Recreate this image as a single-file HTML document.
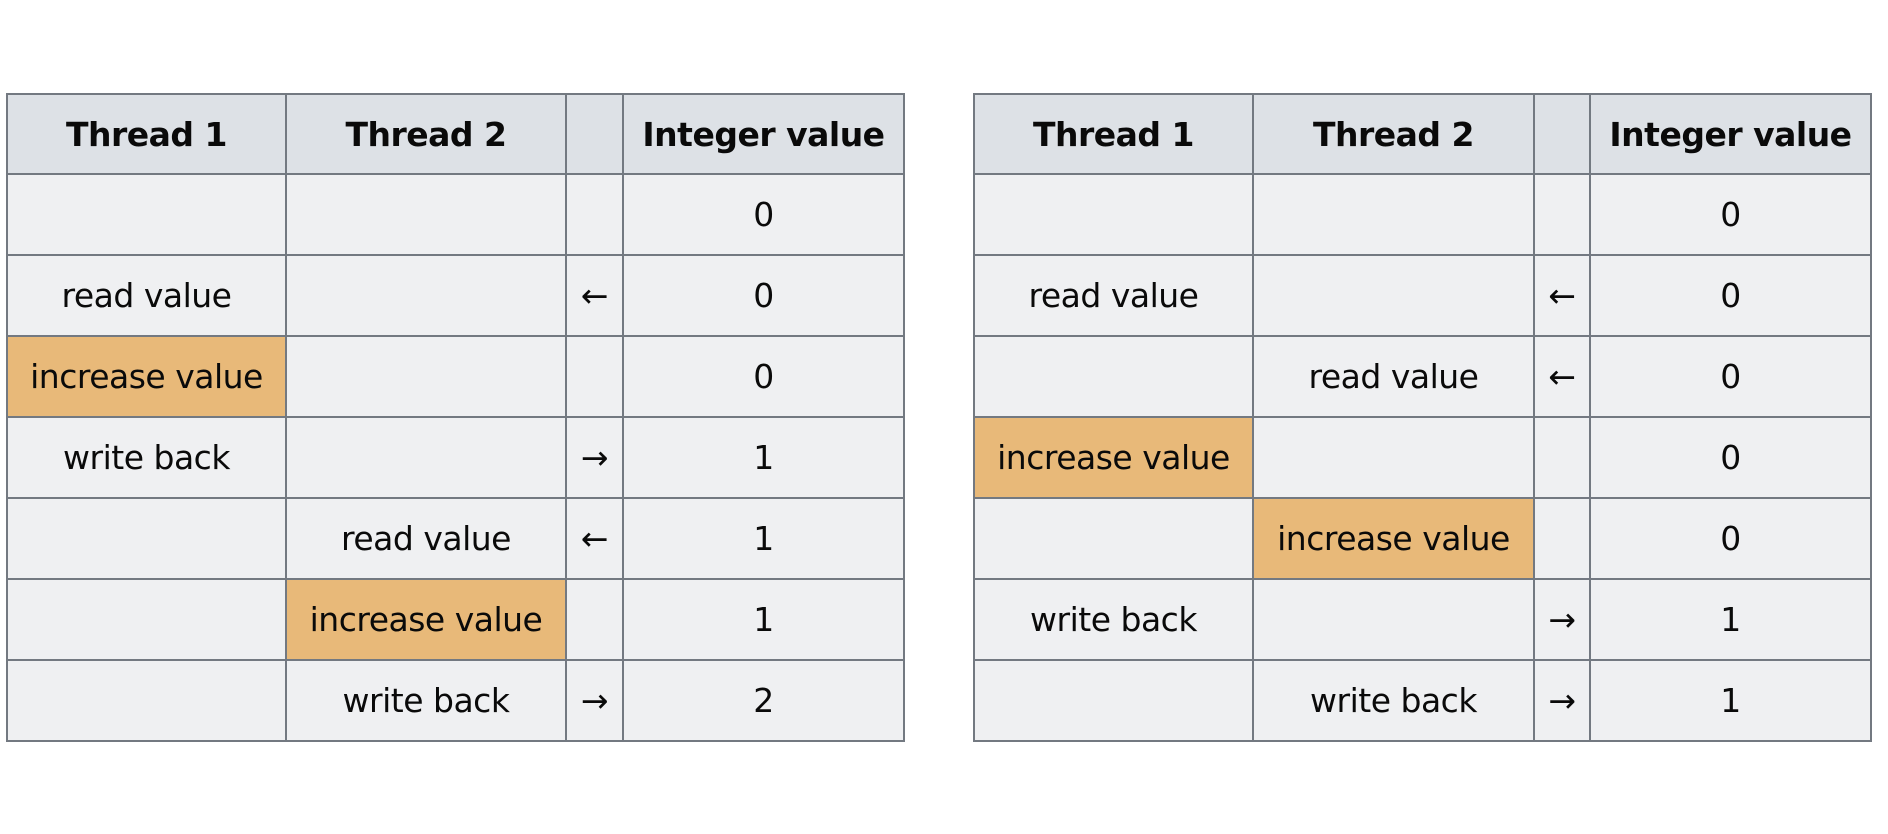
<!DOCTYPE html>
<html><head><meta charset="utf-8"><style>
body{margin:0;width:1888px;height:834px;background:#fff;position:relative;overflow:hidden;font-family:"DejaVu Sans","Liberation Sans",sans-serif;}
table{position:absolute;top:93px;border-collapse:collapse;table-layout:fixed;}
td,th{border:2px solid #737981;background:#eff0f2;text-align:center;font-size:33px;color:#0a0a0a;padding:0;height:81px;box-sizing:border-box;white-space:nowrap;overflow:hidden;letter-spacing:-0.5px}
th{background:#dde1e6;font-weight:900;height:80px}
td.h{background:#e8b979}
</style></head><body>
<table style="left:6px;width:897px">
<colgroup><col style="width:279px"><col style="width:280px"><col style="width:57px"><col style="width:281px"></colgroup>
<tr><th>Thread 1</th><th>Thread 2</th><th></th><th>Integer value</th></tr>
<tr><td></td><td></td><td></td><td>0</td></tr>
<tr><td>read value</td><td></td><td>←</td><td>0</td></tr>
<tr><td class="h">increase value</td><td></td><td></td><td>0</td></tr>
<tr><td>write back</td><td></td><td>→</td><td>1</td></tr>
<tr><td></td><td>read value</td><td>←</td><td>1</td></tr>
<tr><td></td><td class="h">increase value</td><td></td><td>1</td></tr>
<tr><td></td><td>write back</td><td>→</td><td>2</td></tr>
</table>
<table style="left:973px;width:897px">
<colgroup><col style="width:279px"><col style="width:281px"><col style="width:56px"><col style="width:281px"></colgroup>
<tr><th>Thread 1</th><th>Thread 2</th><th></th><th>Integer value</th></tr>
<tr><td></td><td></td><td></td><td>0</td></tr>
<tr><td>read value</td><td></td><td>←</td><td>0</td></tr>
<tr><td></td><td>read value</td><td>←</td><td>0</td></tr>
<tr><td class="h">increase value</td><td></td><td></td><td>0</td></tr>
<tr><td></td><td class="h">increase value</td><td></td><td>0</td></tr>
<tr><td>write back</td><td></td><td>→</td><td>1</td></tr>
<tr><td></td><td>write back</td><td>→</td><td>1</td></tr>
</table>
</body></html>
